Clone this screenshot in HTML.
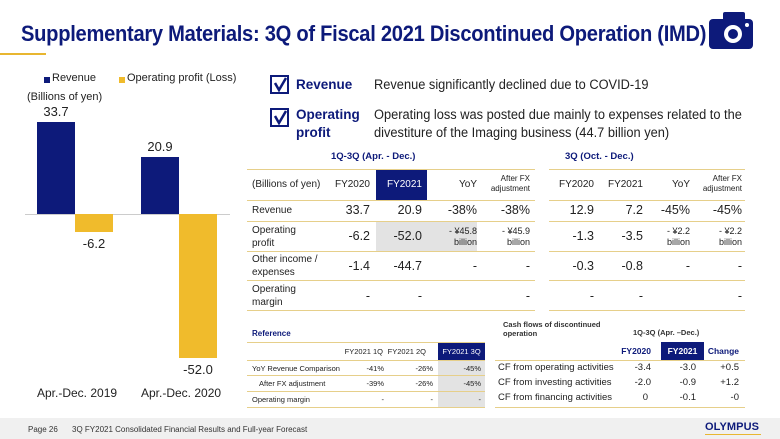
<!DOCTYPE html>
<html><head><meta charset="utf-8"><style>
*{margin:0;padding:0;box-sizing:border-box}
body{width:780px;height:439px;overflow:hidden;background:#fff;font-family:"Liberation Sans",Arial,sans-serif;color:#222;position:relative}
.a{position:absolute;white-space:nowrap}
.r{text-align:right}
.c{text-align:center}
.gl{position:absolute;height:1px;background:#e6cf8a}
.nv{color:#0d1a7a}
</style></head><body>
<div class="a nv" style="left:21px;top:21px;font-size:22px;font-weight:bold;letter-spacing:-0.3px;transform:scaleX(0.915);transform-origin:left">Supplementary Materials: 3Q of Fiscal 2021 Discontinued Operation (IMD)</div>
<div class="a" style="left:0;top:53px;width:46px;height:2px;background:#e8b630"></div>
<svg class="a" style="left:705px;top:10px" width="50" height="42"><rect x="18" y="2" width="22" height="10" rx="2" fill="#0d1a7a"/><rect x="4" y="9" width="44" height="30" rx="4" fill="#0d1a7a"/><circle cx="28" cy="24" r="9" fill="#fff"/><circle cx="28" cy="24" r="5" fill="#0d1a7a"/><circle cx="42" cy="15" r="2" fill="#fff"/></svg>

<!-- chart -->
<div class="a" style="left:44px;top:77px;width:6px;height:6px;background:#0d1a7a"></div>
<div class="a" style="left:52px;top:72px;font-size:11px">Revenue</div>
<div class="a" style="left:119px;top:77px;width:6px;height:6px;background:#f0bb2c"></div>
<div class="a" style="left:127px;top:72px;font-size:11px">Operating profit (Loss)</div>
<div class="a" style="left:27px;top:91px;font-size:11px">(Billions of yen)</div>
<div class="a" style="left:25px;top:214px;width:205px;height:1px;background:#ccc"></div>
<div class="a" style="left:37px;top:122px;width:38px;height:92px;background:#0d1a7a"></div>
<div class="a" style="left:75px;top:214px;width:38px;height:18px;background:#f0bb2c"></div>
<div class="a" style="left:141px;top:157px;width:38px;height:57px;background:#0d1a7a"></div>
<div class="a" style="left:179px;top:214px;width:38px;height:144px;background:#f0bb2c"></div>
<div class="a c" style="left:26px;top:104px;width:60px;font-size:13px">33.7</div>
<div class="a c" style="left:130px;top:139px;width:60px;font-size:13px">20.9</div>
<div class="a c" style="left:64px;top:236px;width:60px;font-size:13px">-6.2</div>
<div class="a c" style="left:168px;top:362px;width:60px;font-size:13px">-52.0</div>
<div class="a" style="left:37px;top:386px;font-size:12px">Apr.-Dec. 2019</div>
<div class="a" style="left:141px;top:386px;font-size:12px">Apr.-Dec. 2020</div>

<!-- bullets -->
<svg class="a" style="left:270px;top:75px" width="20" height="20"><rect x="1" y="1" width="17" height="17" fill="none" stroke="#0d1a7a" stroke-width="2"/><path d="M5 8 L9 15 L16 3" fill="none" stroke="#0d1a7a" stroke-width="2.5"/></svg>
<svg class="a" style="left:270px;top:108px" width="20" height="20"><rect x="1" y="1" width="17" height="17" fill="none" stroke="#0d1a7a" stroke-width="2"/><path d="M5 8 L9 15 L16 3" fill="none" stroke="#0d1a7a" stroke-width="2.5"/></svg>
<div class="a nv" style="left:296px;top:77px;font-size:13.5px;font-weight:bold">Revenue</div>
<div class="a nv" style="left:296px;top:106px;font-size:13.5px;font-weight:bold;line-height:18px">Operating<br>profit</div>
<div class="a" style="left:374px;top:77px;font-size:13.5px;transform:scaleX(0.95);transform-origin:left">Revenue significantly declined due to COVID-19</div>
<div class="a" style="left:374px;top:106px;font-size:13.5px;line-height:18px;transform:scaleX(0.95);transform-origin:left">Operating loss was posted due mainly to expenses related to the<br>divestiture of the Imaging business (44.7 billion yen)</div>

<!-- main table -->
<div class="a nv" style="left:331px;top:151px;font-size:9.5px;font-weight:bold">1Q-3Q (Apr. - Dec.)</div>
<div class="a nv" style="left:565px;top:151px;font-size:9.5px;font-weight:bold">3Q (Oct. - Dec.)</div>
<div class="a" style="left:376px;top:169px;width:51px;height:31px;background:#0d1a7a"></div>
<div class="a" style="left:376px;top:222px;width:101px;height:29px;background:#e3e3e3"></div>
<div class="gl" style="left:247px;top:169px;width:288px"></div><div class="gl" style="left:549px;top:169px;width:196px"></div>
<div class="gl" style="left:247px;top:200px;width:288px"></div><div class="gl" style="left:549px;top:200px;width:196px"></div>
<div class="gl" style="left:247px;top:221px;width:288px"></div><div class="gl" style="left:549px;top:221px;width:196px"></div>
<div class="gl" style="left:247px;top:251px;width:288px"></div><div class="gl" style="left:549px;top:251px;width:196px"></div>
<div class="gl" style="left:247px;top:280px;width:288px"></div><div class="gl" style="left:549px;top:280px;width:196px"></div>
<div class="gl" style="left:247px;top:310px;width:288px"></div><div class="gl" style="left:549px;top:310px;width:196px"></div>
<div style="font-size:10px">
<div class="a" style="left:252px;top:179px">(Billions of yen)</div>
<div class="a r" style="left:320px;top:179px;width:50px">FY2020</div>
<div class="a r" style="left:370px;top:179px;width:52px;color:#fff">FY2021</div>
<div class="a r" style="left:430px;top:179px;width:47px">YoY</div>
<div class="a r" style="left:480px;top:174px;width:50px;font-size:8px;line-height:10px">After FX<br>adjustment</div>
<div class="a r" style="left:544px;top:179px;width:50px">FY2020</div>
<div class="a r" style="left:593px;top:179px;width:50px">FY2021</div>
<div class="a r" style="left:640px;top:179px;width:50px">YoY</div>
<div class="a r" style="left:690px;top:174px;width:52px;font-size:8px;line-height:10px">After FX<br>adjustment</div>
<div class="a" style="left:252px;top:205px">Revenue</div>
<div class="a" style="left:252px;top:224px;line-height:13px">Operating<br>profit</div>
<div class="a" style="left:252px;top:253px;line-height:13px">Other income /<br>expenses</div>
<div class="a" style="left:252px;top:283px;line-height:13px">Operating<br>margin</div>
</div>
<div style="font-size:12.5px">
<div class="a r" style="left:320px;top:203px;width:50px">33.7</div><div class="a r" style="left:370px;top:203px;width:52px">20.9</div><div class="a r" style="left:420px;top:203px;width:57px">-38%</div><div class="a r" style="left:480px;top:203px;width:50px">-38%</div>
<div class="a r" style="left:544px;top:203px;width:50px">12.9</div><div class="a r" style="left:593px;top:203px;width:50px">7.2</div><div class="a r" style="left:640px;top:203px;width:50px">-45%</div><div class="a r" style="left:690px;top:203px;width:52px">-45%</div>
<div class="a r" style="left:320px;top:229px;width:50px">-6.2</div><div class="a r" style="left:370px;top:229px;width:52px">-52.0</div>
<div class="a r" style="left:544px;top:229px;width:50px">-1.3</div><div class="a r" style="left:593px;top:229px;width:50px">-3.5</div>
<div class="a r" style="left:320px;top:259px;width:50px">-1.4</div><div class="a r" style="left:370px;top:259px;width:52px">-44.7</div><div class="a r" style="left:420px;top:259px;width:57px">-</div><div class="a r" style="left:480px;top:259px;width:50px">-</div>
<div class="a r" style="left:544px;top:259px;width:50px">-0.3</div><div class="a r" style="left:593px;top:259px;width:50px">-0.8</div><div class="a r" style="left:640px;top:259px;width:50px">-</div><div class="a r" style="left:690px;top:259px;width:52px">-</div>
<div class="a r" style="left:320px;top:289px;width:50px">-</div><div class="a r" style="left:370px;top:289px;width:52px">-</div><div class="a r" style="left:480px;top:289px;width:50px">-</div>
<div class="a r" style="left:544px;top:289px;width:50px">-</div><div class="a r" style="left:593px;top:289px;width:50px">-</div><div class="a r" style="left:690px;top:289px;width:52px">-</div>
</div>
<div style="font-size:9px;line-height:11px">
<div class="a r" style="left:420px;top:226px;width:57px">- ¥45.8<br>billion</div><div class="a r" style="left:480px;top:226px;width:50px">- ¥45.9<br>billion</div>
<div class="a r" style="left:640px;top:226px;width:50px">- ¥2.2<br>billion</div><div class="a r" style="left:690px;top:226px;width:52px">- ¥2.2<br>billion</div>
</div>

<!-- reference table -->
<div class="a nv" style="left:252px;top:329px;font-size:8px;font-weight:bold">Reference</div>
<div class="a" style="left:438px;top:342px;width:47px;height:18px;background:#0d1a7a"></div>
<div class="a" style="left:438px;top:360px;width:47px;height:47px;background:#e3e3e3"></div>
<div class="gl" style="left:247px;top:342px;width:238px"></div>
<div class="gl" style="left:247px;top:360px;width:238px"></div>
<div class="gl" style="left:247px;top:375px;width:238px"></div>
<div class="gl" style="left:247px;top:391px;width:238px"></div>
<div class="gl" style="left:247px;top:407px;width:238px"></div>
<div style="font-size:7.5px">
<div class="a r" style="left:335px;top:347px;width:48px">FY2021 1Q</div><div class="a r" style="left:378px;top:347px;width:48px">FY2021 2Q</div><div class="a c" style="left:438px;top:347px;width:47px;color:#fff">FY2021 3Q</div>
<div class="a" style="left:252px;top:364px">YoY Revenue Comparison</div><div class="a r" style="left:336px;top:364px;width:48px">-41%</div><div class="a r" style="left:385px;top:364px;width:48px">-26%</div><div class="a r" style="left:438px;top:364px;width:43px">-45%</div>
<div class="a" style="left:259px;top:379px">After FX adjustment</div><div class="a r" style="left:336px;top:379px;width:48px">-39%</div><div class="a r" style="left:385px;top:379px;width:48px">-26%</div><div class="a r" style="left:438px;top:379px;width:43px">-45%</div>
<div class="a" style="left:252px;top:395px">Operating margin</div><div class="a r" style="left:336px;top:395px;width:48px">-</div><div class="a r" style="left:385px;top:395px;width:48px">-</div><div class="a r" style="left:438px;top:395px;width:43px">-</div>
</div>

<!-- CF table -->
<div class="a" style="left:503px;top:320px;font-size:7.5px;font-weight:bold;line-height:9px;color:#333">Cash flows of discontinued<br>operation</div>
<div class="a" style="left:633px;top:328px;font-size:7.5px;font-weight:bold;color:#333">1Q-3Q (Apr. –Dec.)</div>
<div class="a" style="left:661px;top:342px;width:43px;height:18px;background:#0d1a7a"></div>
<div class="gl" style="left:495px;top:360px;width:250px"></div>
<div class="gl" style="left:495px;top:407px;width:250px"></div>
<div style="font-size:8.5px;font-weight:bold">
<div class="a r nv" style="left:606px;top:346px;width:45px">FY2020</div>
<div class="a c" style="left:661px;top:346px;width:43px;color:#fff">FY2021</div>
<div class="a r nv" style="left:697px;top:346px;width:42px">Change</div>
</div>
<div style="font-size:9.5px">
<div class="a" style="left:498px;top:362px">CF from operating activities</div><div class="a r" style="left:606px;top:362px;width:45px">-3.4</div><div class="a r" style="left:651px;top:362px;width:45px">-3.0</div><div class="a r" style="left:697px;top:362px;width:42px">+0.5</div>
<div class="a" style="left:498px;top:377px">CF from investing activities</div><div class="a r" style="left:606px;top:377px;width:45px">-2.0</div><div class="a r" style="left:651px;top:377px;width:45px">-0.9</div><div class="a r" style="left:697px;top:377px;width:42px">+1.2</div>
<div class="a" style="left:498px;top:392px">CF from financing activities</div><div class="a r" style="left:606px;top:392px;width:42px">0</div><div class="a r" style="left:651px;top:392px;width:45px">-0.1</div><div class="a r" style="left:697px;top:392px;width:42px">-0</div>
</div>

<!-- footer -->
<div class="a" style="left:0;top:418px;width:780px;height:21px;background:#f0f0f0"></div>
<div class="a" style="left:28px;top:425px;font-size:8px;color:#333">Page 26</div>
<div class="a" style="left:72px;top:425px;font-size:8px;color:#333">3Q FY2021 Consolidated Financial Results and Full-year Forecast</div>
<div class="a nv" style="left:705px;top:421px;font-size:11px;font-weight:bold;letter-spacing:0.1px">OLYMPUS</div>
<div class="a" style="left:705px;top:434px;width:56px;height:1px;background:#e8b630"></div>
</body></html>
